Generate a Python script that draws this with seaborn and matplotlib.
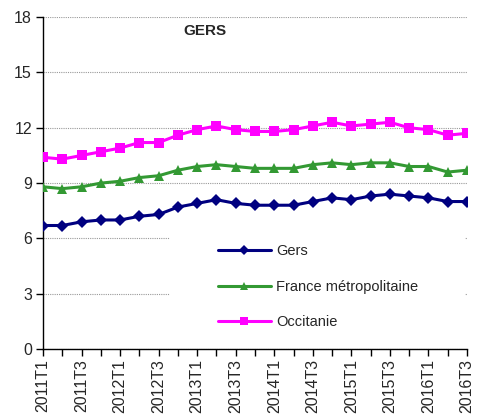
import pandas as pd
import matplotlib.pyplot as plt
import matplotlib.patches as mpatches
import matplotlib.colors as mcolors
import seaborn as sns

# quarterly unemployment rate (%)
trimestres = [f"{a}T{t}" for a in range(2011, 2017) for t in range(1, 5)][:23]
gers = [6.7, 6.7, 6.9, 7.0, 7.0, 7.2, 7.3, 7.7, 7.9, 8.1, 7.9, 7.8,
        7.8, 7.8, 8.0, 8.2, 8.1, 8.3, 8.4, 8.3, 8.2, 8.0, 8.0]
france = [8.8, 8.7, 8.8, 9.0, 9.1, 9.3, 9.4, 9.7, 9.9, 10.0, 9.9, 9.8,
          9.8, 9.8, 10.0, 10.1, 10.0, 10.1, 10.1, 9.9, 9.9, 9.6, 9.7]
occitanie = [10.4, 10.3, 10.5, 10.7, 10.9, 11.2, 11.2, 11.6, 11.9, 12.1, 11.9, 11.8,
             11.8, 11.9, 12.1, 12.3, 12.1, 12.2, 12.3, 12.0, 11.9, 11.6, 11.7]
zones = ["Gers", "France métropolitaine", "Occitanie"]
y_ticks = [0, 3, 6, 9, 12, 15, 18]

df = pd.DataFrame({
    "trimestre": trimestres * 3,
    "taux": gers + france + occitanie,
    "zone": [z for z in zones for _ in trimestres],
})

sns.set_theme(style="white")
plt.rcParams["font.family"] = ["Liberation Sans", "DejaVu Sans"]

fig = plt.figure(figsize=(4.78, 4.19), dpi=100)
ax = fig.add_axes([0.09, 0.167, 0.887, 0.792])

palette = {"Gers": "#000080", "France métropolitaine": "#339933", "Occitanie": "#FF00FF"}
markers = {"Gers": "D", "France métropolitaine": "^", "Occitanie": "s"}
sizes = {"Gers": 6, "France métropolitaine": 7.5, "Occitanie": 7.5}

sns.lineplot(data=df, x="trimestre", y="taux", hue="zone", style="zone",
             markers=markers, dashes=False, palette=palette, linewidth=2.2,
             markersize=7, markeredgewidth=0, ax=ax, legend=True, zorder=3)

# per-series marker sizes
for line in ax.lines:
    for z, c in palette.items():
        if mcolors.same_color(line.get_color(), c):
            line.set_markersize(sizes[z])

ax.set_xlim(0, len(trimestres) - 1)
ax.set_ylim(0, 18)
ax.set_yticks(y_ticks)
ax.set_xticks(range(len(trimestres)))
ax.set_xticklabels([t if i % 2 == 0 else "" for i, t in enumerate(trimestres)],
                   rotation=90, fontsize=11.5)
ax.tick_params(axis="y", labelsize=11.5, length=5, width=1, color="black",
               direction="out", left=True, pad=3)
ax.tick_params(axis="x", length=5, width=1, color="black", direction="out",
               bottom=True, pad=2)
ax.set_xlabel("")
ax.set_ylabel("")
ax.grid(axis="y", color="#999999", linestyle=(0, (1, 1)), linewidth=0.8)
ax.set_axisbelow(True)
for side in ["top", "right"]:
    ax.spines[side].set_visible(False)
for side in ["left", "bottom"]:
    ax.spines[side].set_color("black")
    ax.spines[side].set_linewidth(1)

# white box behind legend hides grid
ax.add_patch(mpatches.Rectangle((0.30, 0.012), 0.695, 0.34, transform=ax.transAxes,
                                facecolor="white", edgecolor="none", zorder=1.5))

ax.text(0.382, 0.958, "GERS", transform=ax.transAxes, fontsize=11,
        fontweight="bold", ha="center", va="center")

leg = ax.legend(loc="upper left", bbox_to_anchor=(0.413, 0.315), frameon=False,
                fontsize=10.5, handlelength=3.6, handletextpad=0.4, labelspacing=1.45,
                borderpad=0, borderaxespad=0)
for h in leg.legend_handles:
    h.set_markersize(5.5)

fig.savefig("out.png", dpi=100)
plt.close()
